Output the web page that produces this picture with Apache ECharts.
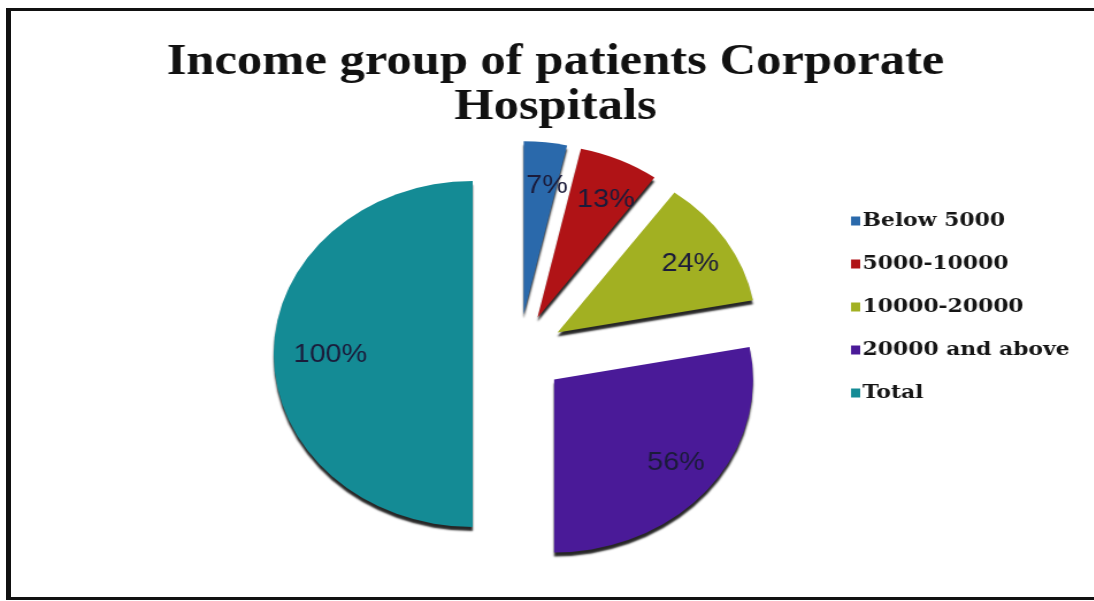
<!DOCTYPE html>
<html>
<head>
<meta charset="utf-8">
<title>Income group of patients Corporate Hospitals</title>
<script src="https://cdn.jsdelivr.net/npm/echarts@6/dist/echarts.min.js"></script>
<style>
  html, body { margin: 0; padding: 0; background: #fff; overflow: hidden; }
  #page { position: relative; width: 1094px; height: 601px; overflow: hidden; background: #fff; }
  /* outer frame: a rule on the left, top and bottom */
  .rule { position: absolute; background: #111; }
  #ruleLeft { left: 6px; top: 8px; width: 5px; height: 592px; }
  #ruleTop { left: 6px; top: 8px; width: 1088px; height: 3px; }
  #ruleBottom { left: 6px; top: 597px; width: 1088px; height: 3px; }
  /* chart drawn slightly narrower, then widened horizontally */
  #chart {
    position: absolute; left: 0; top: 0; width: 951px; height: 601px;
    transform: scaleX(1.15); transform-origin: 0 0;
  }
</style>
</head>
<body>
<div id="page">
  <div class="rule" id="ruleLeft"></div>
  <div class="rule" id="ruleTop"></div>
  <div class="rule" id="ruleBottom"></div>
  <div id="chart"></div>
</div>
<script>
// Income groups and their shares (%); "Total" is drawn as its own slice.
const categories = ['Below 5000', '5000-10000', '10000-20000', '20000 and above', 'Total'];
const shares = [7, 13, 24, 56, 100];
const palette = ['#2a69ab', '#b01316', '#a2b022', '#4a1a98', '#148b95'];

const chart = echarts.init(document.getElementById('chart'));

// every slice is pulled out from the centre
const sliceData = categories.map((name, i) => ({ name: name, value: shares[i], selected: true }));

const pieCenter = [451, 354];
const pieRadius = 173;
const pull = 40;
const startAngle = 90;

// Percentage labels sit about three quarters of the way out along each
// pulled-out slice; the angle of each slice comes from the shares.
const shareSum = shares.reduce((a, b) => a + b, 0);
let running = 0;
const percentLabels = shares.map((v) => {
  const mid = (startAngle * Math.PI / 180) - ((running + v / 2) / shareSum) * Math.PI * 2;
  running += v;
  const dist = pull + pieRadius * 0.75;
  return {
    type: 'text',
    x: pieCenter[0] + Math.cos(mid) * dist + 6,
    y: pieCenter[1] - Math.sin(mid) * dist + 1,
    z: 10,
    silent: true,
    style: {
      text: v + '%',
      align: 'center',
      verticalAlign: 'middle',
      font: '25px "Liberation Sans", Arial, sans-serif',
      fill: '#1b1b3a'
    }
  };
});

chart.setOption({
  animation: false,
  color: palette,
  title: {
    text: 'Income group of patients Corporate\nHospitals',
    left: 483,
    top: 40,
    textAlign: 'center',
    padding: 0,
    textStyle: {
      fontFamily: '"Liberation Serif", "Times New Roman", serif',
      fontWeight: 'bold',
      fontSize: 44,
      lineHeight: 45,
      color: '#111'
    }
  },
  legend: {
    orient: 'vertical',
    left: 740,
    top: 211,
    padding: 0,
    itemWidth: 8,
    itemHeight: 9,
    itemGap: 23,
    icon: 'rect',
    selectedMode: false,
    data: categories,
    textStyle: {
      fontFamily: '"DejaVu Serif", serif',
      fontWeight: 'bold',
      fontSize: 19,
      lineHeight: 20,
      color: '#151515',
      padding: [0, 0, 0, -3]
    }
  },
  graphic: percentLabels,
  series: [
    {
      type: 'pie',
      center: pieCenter,
      radius: pieRadius,
      startAngle: startAngle,
      clockwise: true,
      selectedMode: 'multiple',
      selectedOffset: pull,
      label: { show: false },
      labelLine: { show: false },
      emphasis: { disabled: true },
      itemStyle: {
        shadowColor: 'rgba(0,0,0,0.85)',
        shadowOffsetY: 4,
        shadowBlur: 2
      },
      data: sliceData
    }
  ]
});
</script>
</body>
</html>
